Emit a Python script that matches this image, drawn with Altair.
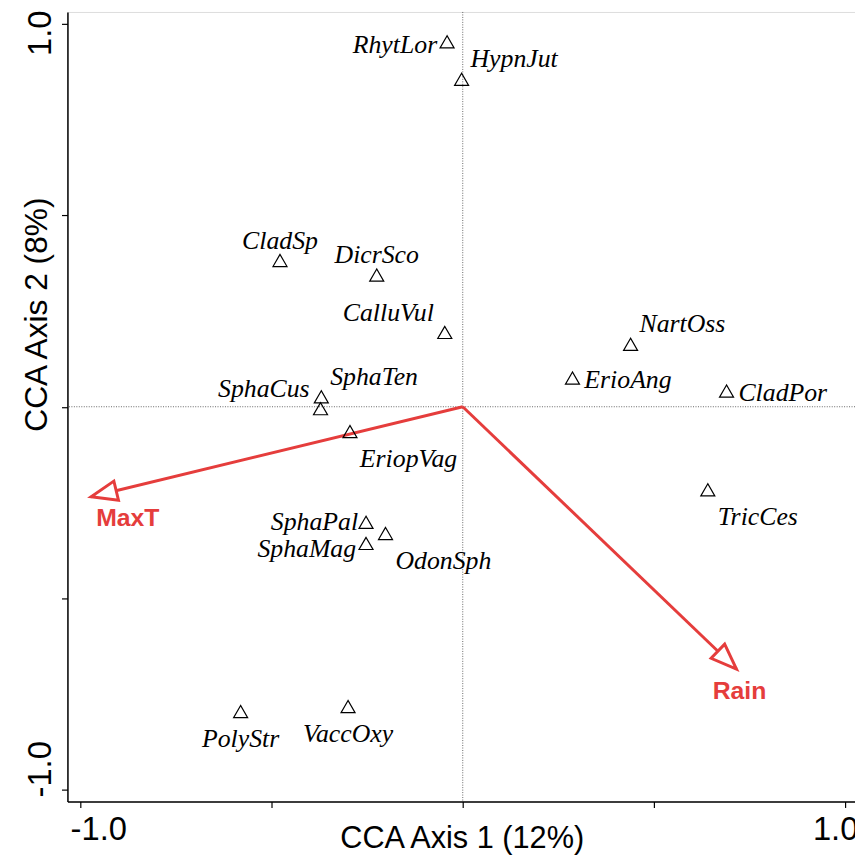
import altair as alt
import pandas as pd
import numpy as np

# ---- data ----
species = ["RhytLor", "HypnJut", "CladSp", "DicrSco", "CalluVul", "NartOss", "ErioAng",
           "CladPor", "SphaTen", "SphaCus", "EriopVag", "TricCes", "SphaPal", "OdonSph",
           "SphaMag", "PolyStr", "VaccOxy"]
axis1 = [-0.041, -0.003, -0.478, -0.225, -0.047, 0.439, 0.287,
         0.690, -0.370, -0.372, -0.295, 0.641, -0.253, -0.202,
         -0.253, -0.581, -0.300]
axis2 = [0.953, 0.855, 0.382, 0.344, 0.194, 0.163, 0.075,
         0.041, 0.026, -0.005, -0.065, -0.217, -0.302, -0.331,
         -0.357, -0.796, -0.783]
placement = ["L", "TR", "T", "T", "TL", "TR", "R",
             "R", "TR", "TL", "BR", "BR", "LU", "BR",
             "LD", "B", "B"]

env_names = ["MaxT", "Rain"]
env_axis1 = [-0.972, 0.716]
env_axis2 = [-0.235, -0.685]
env_placement = ["MAXT", "RAIN"]

x_ticks = [-1.0, -0.5, 0.0, 0.5, 1.0]
y_ticks = [-1.0, -0.5, 0.0, 0.5, 1.0]
x_domain = [-1.034, 1.026]
y_domain = [-1.031, 1.031]

# ---- layout / style ----
W, H = 795, 797
RED = "#E53D3C"
SERIF = "Liberation Serif"
SANS = "Liberation Sans"

sp = pd.DataFrame({"name": species, "x": axis1, "y": axis2, "pos": placement})

kx = W / (x_domain[1] - x_domain[0])
ky = H / (y_domain[1] - y_domain[0])
ang = [float(np.degrees(np.arctan2(a * kx, b * ky)) % 360) for a, b in zip(env_axis1, env_axis2)]
env = pd.DataFrame({"name": env_names, "x": env_axis1, "y": env_axis2,
                    "x0": [0.0] * len(env_names), "y0": [0.0] * len(env_names),
                    "angle": ang, "pos": env_placement})

xs = alt.Scale(domain=x_domain, nice=False, zero=False)
ys = alt.Scale(domain=y_domain, nice=False, zero=False)

x_axis = alt.Axis(
    values=x_ticks, title="CCA Axis 1 (12%)", grid=False,
    labelExpr="datum.value == 1 ? '1.0' : (datum.value == -1 ? '-1.0' : '')",
    labelFont=SANS, labelFontSize=33, labelColor="black",
    labelPadding=6, labelBaseline="top",
    labelOffset={"condition": {"test": "datum.value < 0", "value": 18}, "value": -10},
    tickSize=6, tickColor="black", tickWidth=1.2,
    domainColor="black", domainWidth=1.5,
    titleFont=SANS, titleFontSize=31, titleFontWeight="normal", titleColor="black",
    titleX=398, titleY=46, titleBaseline="alphabetic", titleAlign="center", titleAnchor="start",
)
y_axis = alt.Axis(
    values=y_ticks, title="CCA Axis 2 (8%)", grid=False,
    labelExpr="datum.value == 1 ? '1.0' : (datum.value == -1 ? '-1.0' : '')",
    labelFont=SANS, labelFontSize=33, labelColor="black",
    labelAngle=270, labelAlign="center", labelBaseline="alphabetic", labelPadding=11,
    labelOffset={"condition": {"test": "datum.value > 0", "value": 9}, "value": -21},
    tickSize=6, tickColor="black", tickWidth=1.2,
    domainColor="black", domainWidth=1.5,
    titleFont=SANS, titleFontSize=32, titleFontWeight="normal", titleColor="black",
    titleAngle=270, titleX=-21, titleY=305, titleBaseline="alphabetic", titleAlign="center", titleAnchor="start",
)

zero_df = pd.DataFrame({"v": [0.0]})
vline = alt.Chart(zero_df).mark_rule(color="#666666", strokeWidth=1, strokeDash=[1, 1.5]).encode(
    x=alt.X("v:Q", scale=xs, axis=x_axis))
hline = alt.Chart(zero_df).mark_rule(color="#666666", strokeWidth=1, strokeDash=[1, 1.5]).encode(
    y=alt.Y("v:Q", scale=ys, axis=y_axis))

shafts = alt.Chart(env).mark_rule(color=RED, strokeWidth=3).encode(
    x=alt.X("x0:Q", scale=xs), y=alt.Y("y0:Q", scale=ys),
    x2="x:Q", y2="y:Q")

head_path = "M0,0 L-0.38,1 L0.38,1 Z"
heads = alt.Chart(env).mark_point(shape=head_path, size=2704, filled=True, fill="white",
                                  stroke=RED, strokeWidth=3, opacity=1, strokeJoin="miter").encode(
    x=alt.X("x:Q", scale=xs), y=alt.Y("y:Q", scale=ys),
    angle=alt.Angle("angle:Q", scale=None))

points = alt.Chart(sp).mark_point(shape="triangle-up", filled=False, color="black",
                                  size=200, strokeWidth=1.2, opacity=1).encode(
    x=alt.X("x:Q", scale=xs), y=alt.Y("y:Q", scale=ys))

place_style = {
    "L": dict(align="right", dx=-10, dy=3),
    "LU": dict(align="right", dx=-8, dy=0),
    "LD": dict(align="right", dx=-10, dy=6),
    "R": dict(align="left", dx=12, dy=2),
    "T": dict(align="center", dx=0, dy=-20),
    "B": dict(align="center", dx=0, dy=28),
    "TR": dict(align="left", dx=9, dy=-20),
    "TL": dict(align="right", dx=-11, dy=-20),
    "BR": dict(align="left", dx=10, dy=28),
}
text_layers = []
for code, st in place_style.items():
    text_layers.append(
        alt.Chart(sp).transform_filter(alt.datum.pos == code).mark_text(
            font=SERIF, fontStyle="italic", fontSize=26, color="black",
            baseline="middle", **st).encode(
            x=alt.X("x:Q", scale=xs), y=alt.Y("y:Q", scale=ys), text="name:N"))

env_style = {
    "MAXT": dict(align="center", dx=37, dy=22),
    "RAIN": dict(align="center", dx=3, dy=22),
}
env_layers = []
for code, st in env_style.items():
    env_layers.append(
        alt.Chart(env).transform_filter(alt.datum.pos == code).mark_text(
            font=SANS, fontWeight="bold", fontSize=25, color=RED,
            baseline="middle", **st).encode(
            x=alt.X("x:Q", scale=xs), y=alt.Y("y:Q", scale=ys), text="name:N"))

chart = alt.layer(vline, hline, shafts, heads, points, *text_layers, *env_layers).properties(
    width=W, height=H,
    autosize=alt.AutoSizeParams(type="none"),
    padding={"left": 60, "top": 0, "right": 0, "bottom": 51},
).configure_view(stroke="black", strokeWidth=1.5).configure(background="white")

chart.save("out.html", embed_options={"renderer": "svg", "actions": False})
